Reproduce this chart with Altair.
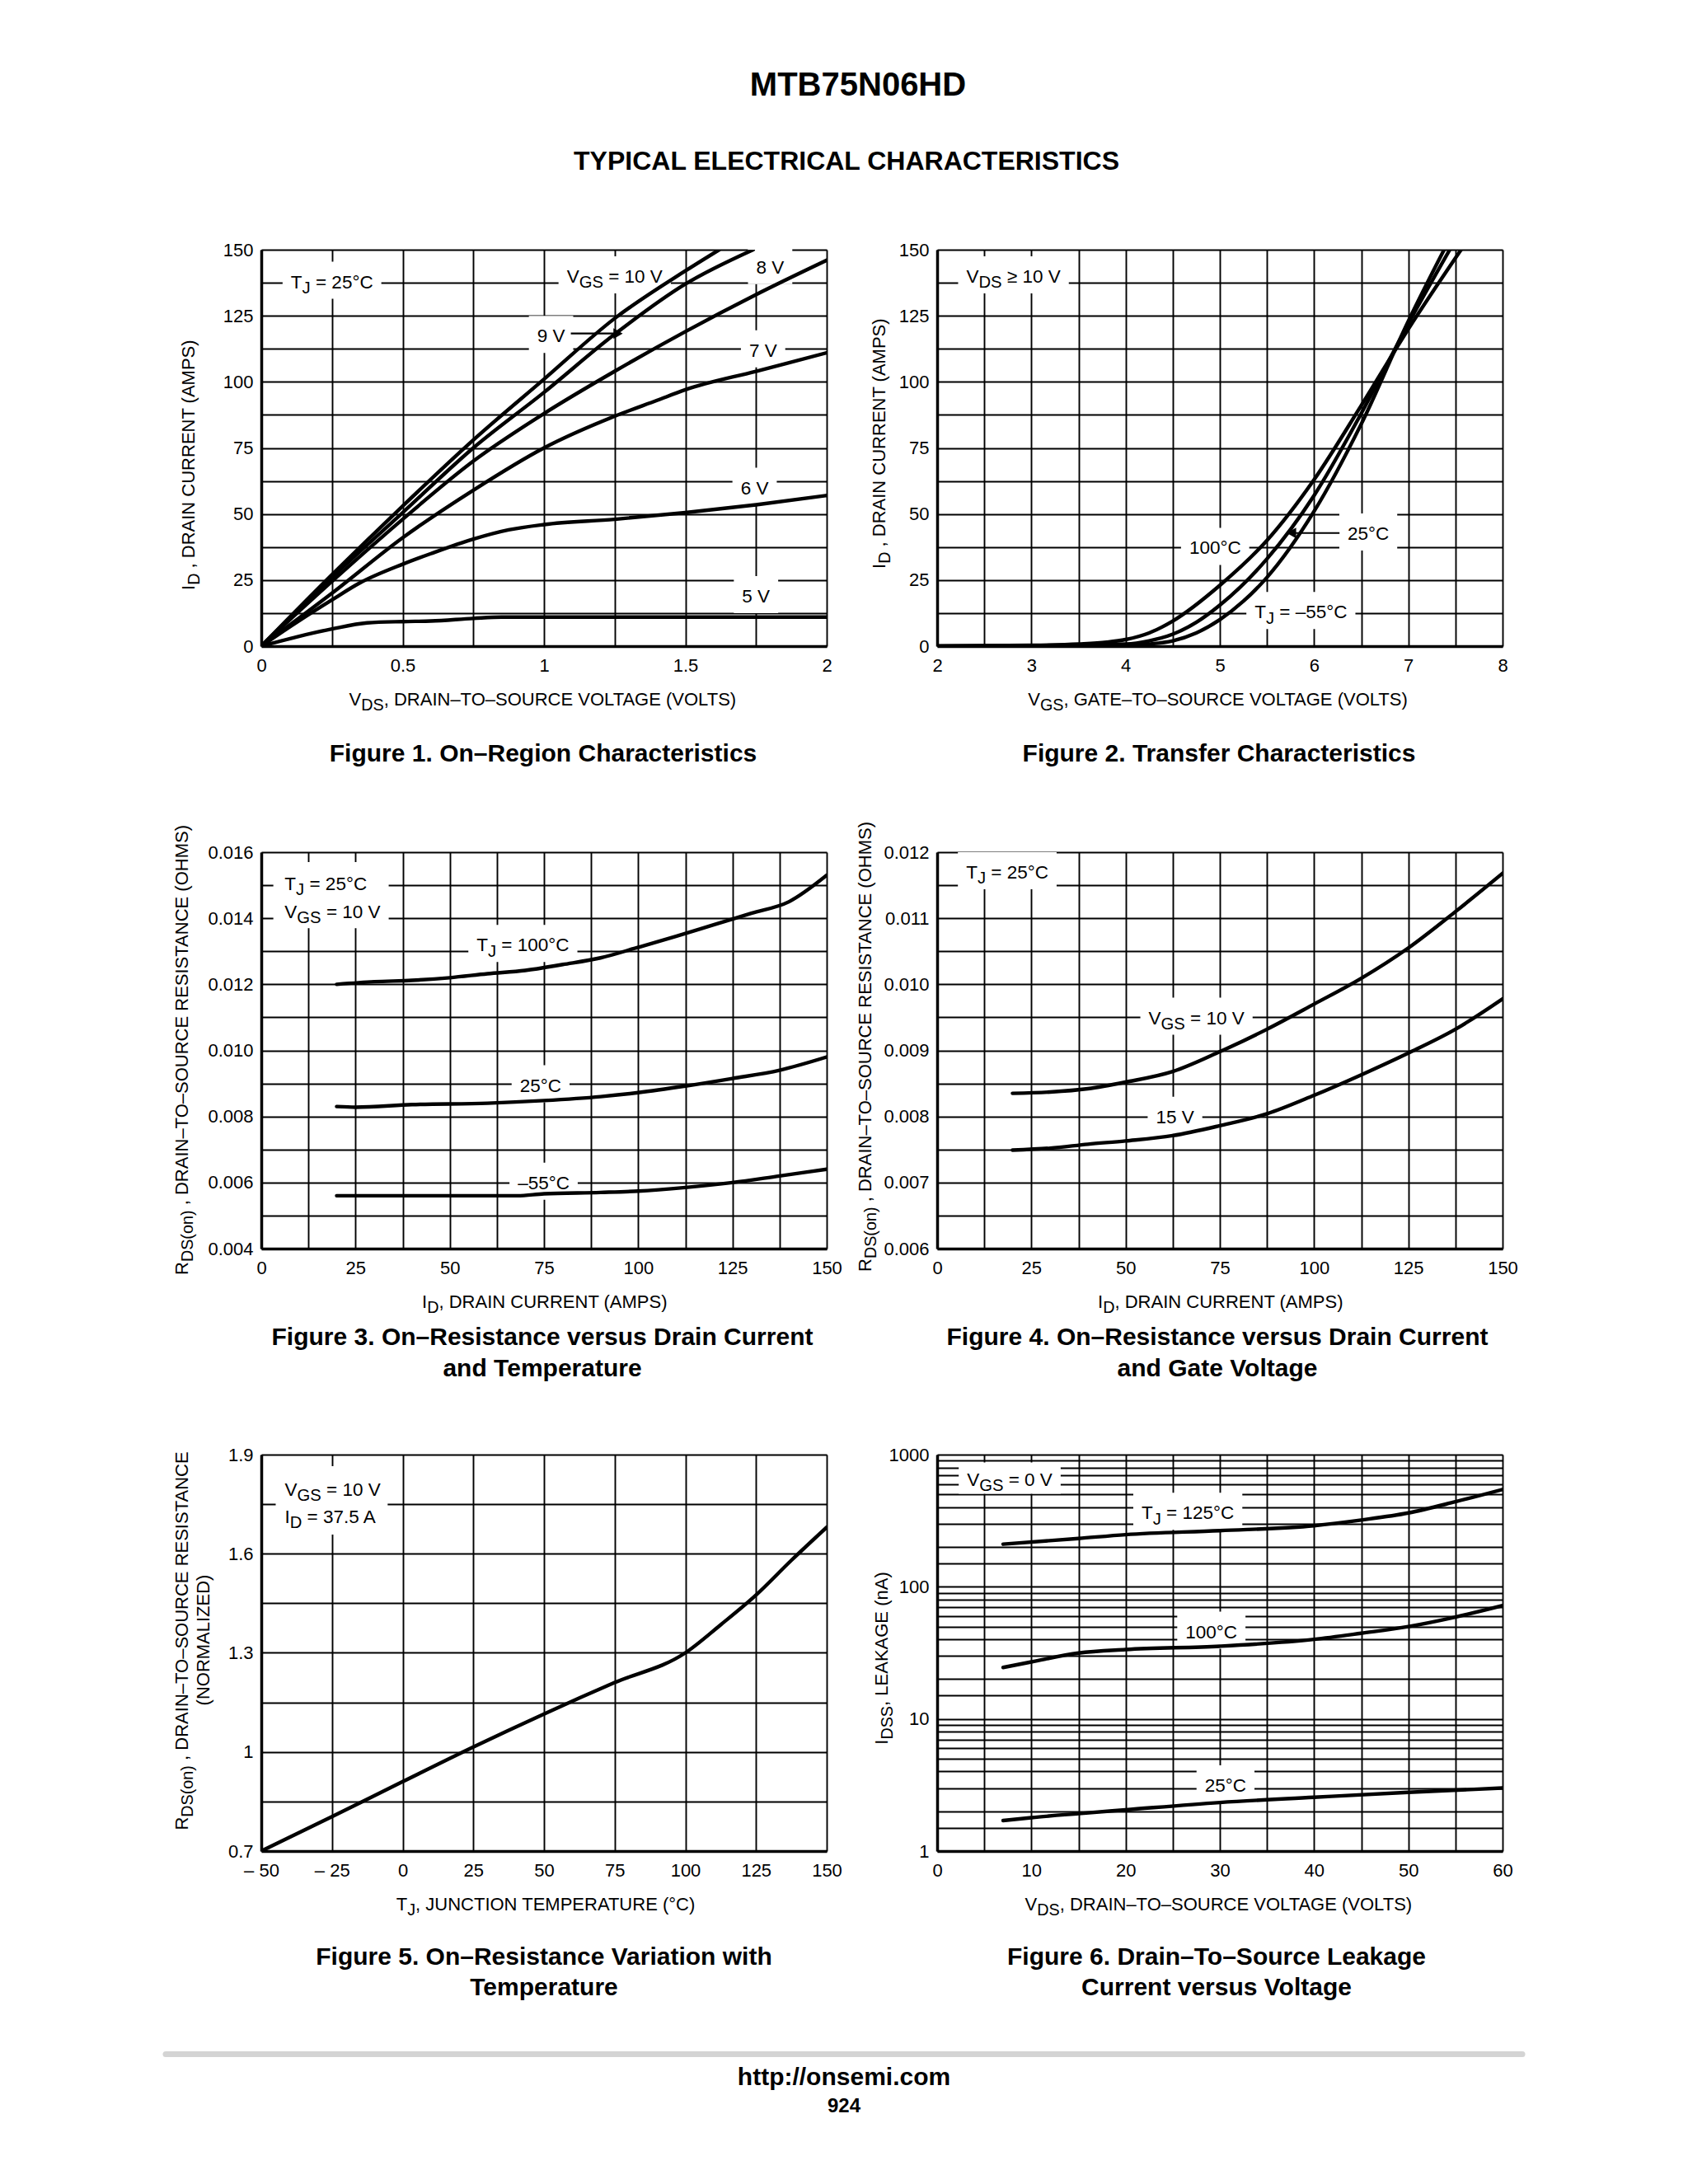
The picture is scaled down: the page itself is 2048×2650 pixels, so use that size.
import math
import altair as alt
import pandas as pd

FONT = "Liberation Sans"
W, H = 686, 481
FS_TICK = 22
FS_ANN = 22.5
FS_AX = 22
SUB = 0.9
DROP = 0.28

# ---------------- Figure 1: On-Region Characteristics ----------------
f1_vds_10v = [0, 0.25, 0.5, 0.75, 1.0, 1.25, 1.5, 1.62]
f1_id_10v = [0, 27, 53, 78, 101, 124, 142, 150]
f1_vds_9v = [0, 0.25, 0.5, 0.75, 1.0, 1.25, 1.5, 1.74]
f1_id_9v = [0, 26, 50.5, 75, 96, 118, 137, 150]
f1_vds_8v = [0, 0.25, 0.5, 0.75, 1.0, 1.25, 1.5, 1.75, 2.0]
f1_id_8v = [0, 24.5, 48, 70, 88, 104, 119, 133, 146]
f1_vds_7v = [0, 0.25, 0.5, 0.75, 1.0, 1.25, 1.4, 1.5, 1.75, 2.0]
f1_id_7v = [0, 20, 41, 59, 75, 87, 93, 97, 104, 111]
f1_vds_6v = [0, 0.125, 0.25, 0.35, 0.5, 0.6, 0.75, 0.875, 1.0, 1.25, 1.5, 1.75, 2.0]
f1_id_6v = [0, 9, 17.5, 24, 31, 35, 40.5, 44, 46, 48, 50.5, 53.5, 57]
f1_vds_5v = [0, 0.125, 0.25, 0.375, 0.5, 0.6, 0.75, 0.85, 1.0, 1.5, 2.0]
f1_id_5v = [0, 3.5, 6.5, 8.8, 9.3, 9.5, 10.5, 11, 11, 11, 11]

# ---------------- Figure 2: Transfer Characteristics ----------------
f2_vgs_100c = [2, 3, 3.5, 3.8, 4.0, 4.25, 4.5, 5.0, 5.5, 6.0, 6.5, 7.0, 7.56]
f2_id_100c = [0, 0.3, 0.8, 1.5, 2.5, 5, 9.5, 23, 40, 63, 91, 120, 150]
f2_vgs_25c = [2, 3, 4.0, 4.25, 4.5, 4.75, 5.0, 5.5, 6.0, 6.5, 7.0, 7.44]
f2_id_25c = [0, 0.2, 0.8, 2, 4.5, 9, 15.5, 33, 57, 88, 122, 150]
f2_vgs_m55c = [2, 3, 4.0, 4.25, 4.5, 4.75, 5.0, 5.25, 5.5, 6.0, 6.5, 7.0, 7.38]
f2_id_m55c = [0, 0.1, 0.3, 0.8, 2, 5, 10, 17, 26, 51, 84, 123, 150]

# ---------------- Figure 3: RDS(on) vs ID and temperature ----------------
f3_id_100c = [20, 30, 40, 50, 60, 70, 80, 90, 100, 110, 120, 130, 140, 150]
f3_r_100c = [0.0120, 0.01208, 0.01212, 0.0122, 0.01232, 0.01242, 0.0126, 0.0128, 0.01312, 0.01345, 0.0138, 0.01415, 0.0145, 0.0153]
f3_id_25c = [20, 25, 40, 60, 75, 90, 100, 112.5, 125, 137.5, 150]
f3_r_25c = [0.0083, 0.00828, 0.00836, 0.0084, 0.00848, 0.0086, 0.00872, 0.00892, 0.00915, 0.0094, 0.0098]
f3_id_m55c = [20, 40, 60, 68, 75, 90, 100, 112.5, 125, 137.5, 150]
f3_r_m55c = [0.0056, 0.0056, 0.0056, 0.0056, 0.00566, 0.0057, 0.00574, 0.00585, 0.0060, 0.0062, 0.0064]

# ---------------- Figure 4: RDS(on) vs ID and gate voltage ----------------
f4_id = [20, 30, 40, 50, 62.5, 75, 87.5, 100, 112.5, 125, 137.5, 150]
f4_r_10v = [0.00835, 0.00837, 0.00842, 0.00852, 0.00868, 0.00898, 0.00932, 0.0097, 0.01009, 0.01055, 0.0111, 0.01168]
f4_r_15v = [0.00749, 0.00752, 0.00758, 0.00763, 0.00771, 0.00786, 0.00804, 0.00832, 0.00863, 0.00896, 0.00932, 0.00978]

# ---------------- Figure 5: RDS(on) vs temperature ----------------
f5_tj = [-50, -25, 0, 25, 50, 75, 100, 112.5, 125, 137.5, 150]
f5_r = [0.7, 0.804, 0.91, 1.015, 1.115, 1.21, 1.30, 1.385, 1.475, 1.58, 1.68]

# ---------------- Figure 6: leakage vs VDS ----------------
f6_vds_125c = [7, 15, 20, 30, 40, 45, 50, 55, 60]
f6_i_125c = [210, 232, 248, 266, 290, 320, 362, 440, 545]
f6_vds_100c = [7, 10, 15, 20, 30, 40, 45, 50, 55, 60]
f6_i_100c = [24.5, 27, 31.5, 33.5, 35.5, 40, 44.5, 50, 59, 72]
f6_vds_25c = [7, 10, 15, 20, 30, 40, 50, 60]
f6_i_25c = [1.7, 1.79, 1.92, 2.05, 2.33, 2.55, 2.78, 3.0]

# ---------------- ticks / grid ----------------
f1_xgrid = [0, 0.25, 0.5, 0.75, 1.0, 1.25, 1.5, 1.75, 2.0]
f1_xlab = {0: "0", 0.5: "0.5", 1.0: "1", 1.5: "1.5", 2.0: "2"}
id150_grid = [0, 12.5, 25, 37.5, 50, 62.5, 75, 87.5, 100, 112.5, 125, 137.5, 150]
id150_lab = {0: "0", 25: "25", 50: "50", 75: "75", 100: "100", 125: "125", 150: "150"}
f2_xgrid = [2, 2.5, 3, 3.5, 4, 4.5, 5, 5.5, 6, 6.5, 7, 7.5, 8]
f2_xlab = {2: "2", 3: "3", 4: "4", 5: "5", 6: "6", 7: "7", 8: "8"}
f3_ygrid = [0.004, 0.005, 0.006, 0.007, 0.008, 0.009, 0.010, 0.011, 0.012, 0.013, 0.014, 0.015, 0.016]
f3_ylab = {0.004: "0.004", 0.006: "0.006", 0.008: "0.008", 0.010: "0.010", 0.012: "0.012", 0.014: "0.014", 0.016: "0.016"}
f4_ygrid = [0.006, 0.0065, 0.007, 0.0075, 0.008, 0.0085, 0.009, 0.0095, 0.010, 0.0105, 0.011, 0.0115, 0.012]
f4_ylab = {0.006: "0.006", 0.007: "0.007", 0.008: "0.008", 0.009: "0.009", 0.010: "0.010", 0.011: "0.011", 0.012: "0.012"}
f5_xgrid = [-50, -25, 0, 25, 50, 75, 100, 125, 150]
f5_xlab = {-50: "– 50", -25: "– 25", 0: "0", 25: "25", 50: "50", 75: "75", 100: "100", 125: "125", 150: "150"}
f5_ygrid = [0.7, 0.85, 1.0, 1.15, 1.3, 1.45, 1.6, 1.75, 1.9]
f5_ylab = {0.7: "0.7", 1.0: "1", 1.3: "1.3", 1.6: "1.6", 1.9: "1.9"}
f6_xgrid = [0, 5, 10, 15, 20, 25, 30, 35, 40, 45, 50, 55, 60]
f6_xlab = {0: "0", 10: "10", 20: "20", 30: "30", 40: "40", 50: "50", 60: "60"}
f6_ygrid = [1, 1.5, 2, 3, 4, 5, 6, 7, 8, 9,
            10, 15, 20, 30, 40, 50, 60, 70, 80, 90,
            100, 150, 200, 300, 400, 500, 600, 700, 800, 900, 1000]
f6_ylab = {1: "1", 10: "10", 100: "100", 1000: "1000"}

# ---------------- text helpers ----------------
AW = {' ': 278, '!': 278, '(': 333, ')': 333, ',': 278, '-': 333, '.': 278, '/': 278,
      ':': 278, '=': 584, '°': 400, '–': 556, '≥': 549,
      'A': 667, 'B': 667, 'C': 722, 'D': 722, 'E': 667, 'F': 611, 'G': 778, 'H': 722, 'I': 278,
      'J': 500, 'K': 667, 'L': 556, 'M': 833, 'N': 722, 'O': 778, 'P': 667, 'Q': 778, 'R': 722,
      'S': 667, 'T': 611, 'U': 722, 'V': 667, 'W': 944, 'X': 667, 'Y': 667, 'Z': 611,
      'a': 556, 'b': 556, 'c': 500, 'd': 556, 'e': 556, 'f': 278, 'g': 556, 'h': 556, 'i': 222,
      'j': 222, 'k': 500, 'l': 222, 'm': 833, 'n': 556, 'o': 556, 'p': 556, 'q': 556, 'r': 333,
      's': 500, 't': 278, 'u': 556, 'v': 500, 'w': 722, 'x': 500, 'y': 500, 'z': 500}


def tw(s, fs):
    return sum(AW.get(c, 556) for c in s) / 1000.0 * fs


def seg_width(segs, fs):
    return sum(tw(t, fs * (SUB if s else 1)) for t, s in segs)


DUMMY = pd.DataFrame({"k": [0]})


def seg_layers(segs, fs, data, enc, angle=0, align="center", dy0=0.0, weight="normal", color="black"):
    out = []
    if len(segs) == 1 and not segs[0][1]:
        kw = dict(text=segs[0][0], font=FONT, fontSize=fs, align=align, baseline="alphabetic",
                  dy=dy0, color=color, fontWeight=weight)
        if angle:
            kw["angle"] = angle
        return [alt.Chart(data).mark_text(**kw).encode(**enc)]
    widths = [tw(t, fs * (SUB if s else 1)) for t, s in segs]
    total = sum(widths)
    cum = {"center": -total / 2.0, "left": 0.0, "right": -total}[align]
    for (t, s), w in zip(segs, widths):
        size = fs * (SUB if s else 1)
        lead = len(t) - len(t.lstrip(" "))
        kw = dict(text=t.strip(" "), font=FONT, fontSize=size, align="left",
                  baseline="alphabetic", dx=cum + tw(" " * lead, size),
                  dy=dy0 + (DROP * fs if s else 0.0), color=color, fontWeight=weight)
        if angle:
            kw["angle"] = angle
        out.append(alt.Chart(data).mark_text(**kw).encode(**enc))
        cum += w
    return out


def px_text(segs, fs, x, y, angle=0, align="center", weight="normal"):
    return seg_layers(segs, fs, DUMMY, dict(x=alt.value(x), y=alt.value(y)),
                      angle=angle, align=align, weight=weight)


def lab_expr(d):
    parts = ["abs(datum.value - (%r)) < 1e-9 ? '%s'" % (float(k), v) for k, v in d.items()]
    return " : ".join(parts) + " : ''"


def make_axis(values, labels, kind):
    return alt.Axis(values=values, labelExpr=lab_expr(labels), grid=True, gridColor="black",
                    gridWidth=1.9, gridOpacity=1, domain=True, domainColor="black", domainWidth=3.5,
                    ticks=False, tickSize=0, labelFont=FONT, labelFontSize=FS_TICK,
                    labelColor="black", labelPadding=13 if kind == "x" else 10,
                    labelFlush=False, labelOverlap=False, labelBound=False)


def T(*segs):
    return [(s[0], s[1]) if isinstance(s, tuple) else (s, 0) for s in segs]


def make_panel(xdom, ydom, xgrid, xlab, ygrid, ylab, curves, labels, custom_boxes=(),
               arrows=(), extra=(), ylog=False):
    xs = alt.Scale(domain=xdom, nice=False, zero=False)
    if ylog:
        ys = alt.Scale(type="log", domain=ydom, nice=False)
    else:
        ys = alt.Scale(domain=ydom, nice=False, zero=False)
    X = alt.X("x:Q", scale=xs, axis=make_axis(xgrid, xlab, "x"), title=None)
    Y = alt.Y("y:Q", scale=ys, axis=make_axis(ygrid, ylab, "y"), title=None)
    kx = (xdom[1] - xdom[0]) / W

    def ybox(y, up, down):
        if ylog:
            k = (math.log10(ydom[1]) - math.log10(ydom[0])) / H
            return y * 10 ** (-down * k), y * 10 ** (up * k)
        k = (ydom[1] - ydom[0]) / H
        return y - down * k, y + up * k

    rows = []
    for lb in labels:
        if lb.get("nobox"):
            continue
        wt = seg_width(lb["segs"], FS_ANN)
        lo, hi = ybox(lb["y"], lb.get("up", 24), lb.get("down", 21))
        rows.append({"x": lb["x"] - (wt / 2 + 10) * kx, "x2": lb["x"] + (wt / 2 + 10) * kx,
                     "y": lo, "y2": hi})
    for b in custom_boxes:
        rows.append({"x": b[0], "x2": b[1], "y": b[2], "y2": b[3]})
    layers = [alt.Chart(pd.DataFrame(rows)).mark_rect(color="white").encode(
        x=X, x2=alt.X2("x2"), y=Y, y2=alt.Y2("y2"))]

    cdf = pd.concat([pd.DataFrame({"x": xv, "y": yv, "s": name})
                     for name, (xv, yv) in curves.items()], ignore_index=True)
    layers.append(alt.Chart(cdf).mark_line(color="black", strokeWidth=4.4, interpolate="monotone",
                                           strokeCap="round", clip=True).encode(
        x=X, y=Y, detail="s:N"))

    for (x1, x2, yv, d) in arrows:
        adf = pd.DataFrame({"x": [x1], "x2": [x2], "y": [yv], "y2": [yv]})
        layers.append(alt.Chart(adf).mark_rule(color="black", strokeWidth=2.2).encode(
            x=X, x2=alt.X2("x2"), y=Y, y2=alt.Y2("y2")))
        hdf = pd.DataFrame({"x": [x2], "y": [yv]})
        layers.append(alt.Chart(hdf).mark_point(
            shape="triangle-right" if d > 0 else "triangle-left", filled=True, color="black",
            size=170, opacity=1).encode(x=X, y=Y))

    for lb in labels:
        df = pd.DataFrame({"x": [lb["x"]], "y": [lb["y"]]})
        layers += seg_layers(lb["segs"], FS_ANN, df, dict(x=X, y=Y), align=lb.get("align", "center"),
                             dy0=0.36 * FS_ANN)
    layers += list(extra)
    return alt.layer(*layers).properties(width=W, height=H)


XT_Y = 553
CAP = 30

# ---------------- panels ----------------
p1_extra = []
p1_extra.append(alt.Chart(DUMMY).mark_rule(opacity=0, strokeWidth=1).encode(
    x=alt.value(-308), x2=alt.value(-300), y=alt.value(-294), y2=alt.value(-294)))
p1_extra += px_text(T("MTB75N06HD"), 40, 724, -187, weight="bold")
p1_extra += px_text(T("TYPICAL ELECTRICAL CHARACTERISTICS"), 32, 710, -97, weight="bold")
p1_extra += px_text(T("I", ("D", 1), " , DRAIN CURRENT (AMPS)"), FS_AX, -81, 261, angle=270)
p1_extra += px_text(T("V", ("DS", 1), ", DRAIN–TO–SOURCE VOLTAGE (VOLTS)"), FS_AX, 344, XT_Y)
p1_extra += px_text(T("Figure 1. On–Region Characteristics"), CAP, 342, 621, weight="bold")

p1 = make_panel(
    [0, 2], [0, 150], f1_xgrid, f1_xlab, id150_grid, id150_lab,
    {"10V": (f1_vds_10v, f1_id_10v), "9V": (f1_vds_9v, f1_id_9v), "8V": (f1_vds_8v, f1_id_8v),
     "7V": (f1_vds_7v, f1_id_7v), "6V": (f1_vds_6v, f1_id_6v), "5V": (f1_vds_5v, f1_id_5v)},
    [dict(x=0.25, y=138, segs=T("T", ("J", 1), " = 25°C")),
     dict(x=1.25, y=140, segs=T("V", ("GS", 1), " = 10 V")),
     dict(x=1.80, y=143.5, segs=T("8 V")),
     dict(x=1.025, y=117.5, segs=T("9 V")),
     dict(x=1.775, y=112, segs=T("7 V")),
     dict(x=1.745, y=60, segs=T("6 V")),
     dict(x=1.75, y=19, segs=T("5 V"))],
    arrows=[(1.095, 1.262, 118.3, 1)], extra=p1_extra)

p2_extra = []
p2_extra += px_text(T("I", ("D", 1), " , DRAIN CURRENT (AMPS)"), FS_AX, -63, 235, angle=270)
p2_extra += px_text(T("V", ("GS", 1), ", GATE–TO–SOURCE VOLTAGE (VOLTS)"), FS_AX, 344, XT_Y)
p2_extra += px_text(T("Figure 2. Transfer Characteristics"), CAP, 342, 621, weight="bold")
p2 = make_panel(
    [2, 8], [0, 150], f2_xgrid, f2_xlab, id150_grid, id150_lab,
    {"100": (f2_vgs_100c, f2_id_100c), "25": (f2_vgs_25c, f2_id_25c), "-55": (f2_vgs_m55c, f2_id_m55c)},
    [dict(x=2.81, y=140, segs=T("V", ("DS", 1), " ≥ 10 V")),
     dict(x=4.95, y=37.3, segs=T("100°C")),
     dict(x=6.575, y=42.7, segs=T("25°C")),
     dict(x=5.86, y=13, segs=T("T", ("J", 1), " = –55°C"))],
    arrows=[(6.27, 5.76, 42.8, -1)], extra=p2_extra)

p3_extra = []
p3_extra += px_text(T("R", ("DS(on)", 1), " , DRAIN–TO–SOURCE RESISTANCE (OHMS)"), FS_AX, -89, 239, angle=270)
p3_extra += px_text(T("I", ("D", 1), ", DRAIN CURRENT (AMPS)"), FS_AX, 344, XT_Y)
p3_extra += px_text(T("Figure 3. On–Resistance versus Drain Current"), CAP, 341, 598, weight="bold")
p3_extra += px_text(T("and Temperature"), CAP, 341, 635.5, weight="bold")
p3 = make_panel(
    [0, 150], [0.004, 0.016], id150_grid, id150_lab, f3_ygrid, f3_ylab,
    {"100": (f3_id_100c, f3_r_100c), "25": (f3_id_25c, f3_r_25c), "-55": (f3_id_m55c, f3_r_m55c)},
    [dict(x=6.2, y=0.01505, segs=T("T", ("J", 1), " = 25°C"), align="left", nobox=True),
     dict(x=6.2, y=0.01421, segs=T("V", ("GS", 1), " = 10 V"), align="left", nobox=True),
     dict(x=69.4, y=0.0132, segs=T("T", ("J", 1), " = 100°C")),
     dict(x=74.1, y=0.00895, segs=T("25°C")),
     dict(x=74.9, y=0.0060, segs=T("–55°C"))],
    custom_boxes=[(3.2, 33.8, 0.0137, 0.0157)], extra=p3_extra)

p4_extra = []
p4_extra += px_text(T("R", ("DS(on)", 1), " , DRAIN–TO–SOURCE RESISTANCE (OHMS)"), FS_AX, -80, 235, angle=270)
p4_extra += px_text(T("I", ("D", 1), ", DRAIN CURRENT (AMPS)"), FS_AX, 344, XT_Y)
p4_extra += px_text(T("Figure 4. On–Resistance versus Drain Current"), CAP, 340, 598, weight="bold")
p4_extra += px_text(T("and Gate Voltage"), CAP, 340, 635.5, weight="bold")
p4 = make_panel(
    [0, 150], [0.006, 0.012], id150_grid, id150_lab, f4_ygrid, f4_ylab,
    {"10V": (f4_id, f4_r_10v), "15V": (f4_id, f4_r_15v)},
    [dict(x=18.6, y=0.0117, segs=T("T", ("J", 1), " = 25°C")),
     dict(x=68.8, y=0.0095, segs=T("V", ("GS", 1), " = 10 V")),
     dict(x=63.1, y=0.0080, segs=T("15 V"))],
    extra=p4_extra)

p5_extra = []
p5_extra += px_text(T("R", ("DS(on)", 1), " , DRAIN–TO–SOURCE RESISTANCE"), FS_AX, -89, 225, angle=270)
p5_extra += px_text(T("(NORMALIZED)"), FS_AX, -63.5, 225, angle=270)
p5_extra += px_text(T("T", ("J", 1), ", JUNCTION TEMPERATURE (°C)"), FS_AX, 346, XT_Y)
p5_extra += px_text(T("Figure 5. On–Resistance Variation with"), CAP, 343, 619, weight="bold")
p5_extra += px_text(T("Temperature"), CAP, 343, 656, weight="bold")
p5_extra.append(alt.Chart(DUMMY).mark_rule(color="#d4d4d4", strokeWidth=7, strokeCap="round").encode(
    x=alt.value(-116), x2=alt.value(1530), y=alt.value(727.5), y2=alt.value(727.5)))
p5_extra += px_text(T("http://onsemi.com"), 30, 707, 765, weight="bold")
p5_extra += px_text(T("924"), 24, 707, 797.5, weight="bold")
p5 = make_panel(
    [-50, 150], [0.7, 1.9], f5_xgrid, f5_xlab, f5_ygrid, f5_ylab,
    {"r": (f5_tj, f5_r)},
    [dict(x=-41.7, y=1.796, segs=T("V", ("GS", 1), " = 10 V"), align="left", nobox=True),
     dict(x=-41.7, y=1.714, segs=T("I", ("D", 1), " = 37.5 A"), align="left", nobox=True)],
    custom_boxes=[(-44.9, -5.3, 1.658, 1.865)], extra=p5_extra)

p6_extra = []
p6_extra += px_text(T("I", ("DSS", 1), ", LEAKAGE (nA)"), FS_AX, -60, 247, angle=270)
p6_extra += px_text(T("V", ("DS", 1), ", DRAIN–TO–SOURCE VOLTAGE (VOLTS)"), FS_AX, 344, XT_Y)
p6_extra += px_text(T("Figure 6. Drain–To–Source Leakage"), CAP, 339, 619, weight="bold")
p6_extra += px_text(T("Current versus Voltage"), CAP, 339, 656, weight="bold")
p6 = make_panel(
    [0, 60], [1, 1000], f6_xgrid, f6_xlab, f6_ygrid, f6_ylab,
    {"125": (f6_vds_125c, f6_i_125c), "100": (f6_vds_100c, f6_i_100c), "25": (f6_vds_25c, f6_i_25c)},
    [dict(x=7.7, y=655, segs=T("V", ("GS", 1), " = 0 V"), up=20, down=18),
     dict(x=26.6, y=365, segs=T("T", ("J", 1), " = 125°C")),
     dict(x=29.1, y=46, segs=T("100°C")),
     dict(x=30.6, y=3.15, segs=T("25°C"))],
    ylog=True, extra=p6_extra)

chart = alt.concat(p1, p2, p3, p4, p5, p6, columns=2,
                   spacing={"row": 250, "column": 134}, bounds="flush").properties(
    padding={"left": 0, "top": 0, "right": 6, "bottom": 6},
    background="white",
).configure_view(stroke="black", strokeWidth=1.9).configure(font=FONT)

chart.save("out.html", embed_options={"renderer": "svg", "actions": False})
